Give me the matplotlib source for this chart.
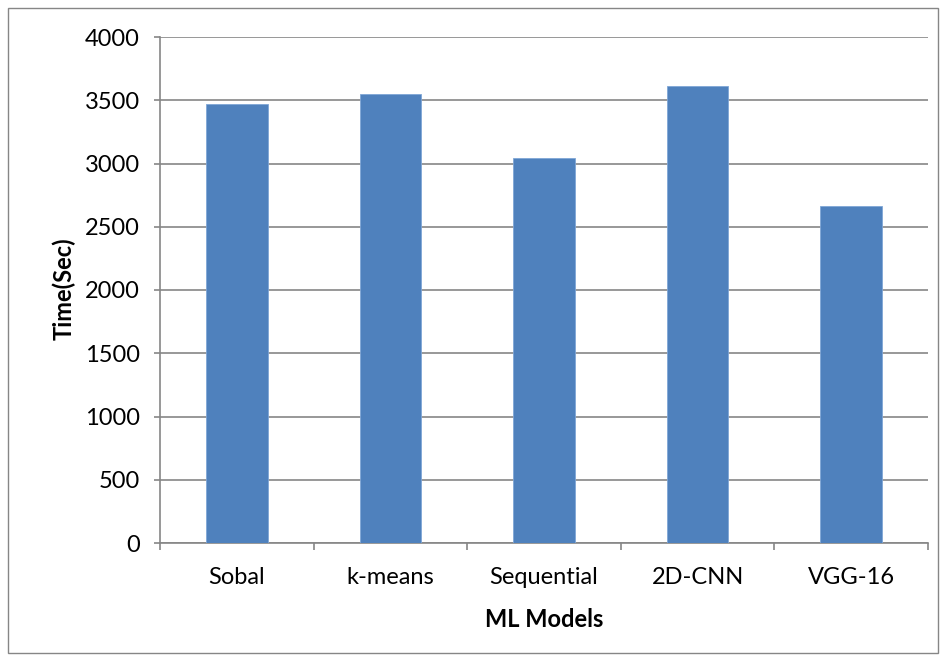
import matplotlib
matplotlib.use("Agg")
import matplotlib.pyplot as plt
from matplotlib.patches import Rectangle
import numpy as np

categories = ["Sobal", "k-means", "Sequential", "2D-CNN", "VGG-16"]
times = [3468, 3547, 3042, 3616, 2663]
yticks = [0, 500, 1000, 1500, 2000, 2500, 3000, 3500, 4000]

plt.rcParams['font.family'] = ['Lato', 'DejaVu Sans']

fig = plt.figure(figsize=(9.46, 6.61), dpi=100)
ax = fig.add_axes([160/946, 118/661, 768/946, 506/661])

x = np.arange(len(categories))
ax.bar(x, times, width=0.4, color="#4F81BD", edgecolor="#7FA6D6", linewidth=0.6, zorder=3)

ax.set_xlim(-0.5, len(categories) - 0.5)
ax.set_ylim(0, 4000)
ax.set_yticks(yticks)
ax.set_yticklabels([str(v) for v in yticks], fontsize=17)
ax.grid(axis='y', color="#868686", linewidth=1.2, zorder=0)

ax.set_xticks(x)
ax.set_xticklabels(categories, fontsize=17)
ax.tick_params(axis='x', which='major', length=0, pad=17.5)
ax.set_xticks(np.arange(-0.5, len(categories), 1.0), minor=True)
ax.tick_params(axis='x', which='minor', length=5, color="#868686", width=1.2, direction='out')
ax.tick_params(axis='y', length=4.5, color="#868686", width=1.2, pad=10)

for s in ['top', 'right']:
    ax.spines[s].set_visible(False)
for s in ['left', 'bottom']:
    ax.spines[s].set_color("#868686")
    ax.spines[s].set_linewidth(1.2)

ax.set_ylabel("Time(Sec)", fontsize=17, fontweight='bold')
ax.set_xlabel("ML Models", fontsize=17, fontweight='bold')
ax.yaxis.set_label_coords(76/946, (661 - 289)/661, transform=fig.transFigure)
ax.xaxis.set_label_coords(544/946, (661 - 608)/661, transform=fig.transFigure)

fig.patches.append(Rectangle((8/946, 8/661), 930/946, 645/661, transform=fig.transFigure,
                             fill=False, edgecolor="#868686", linewidth=1.0))

fig.savefig("out.png", dpi=100)
